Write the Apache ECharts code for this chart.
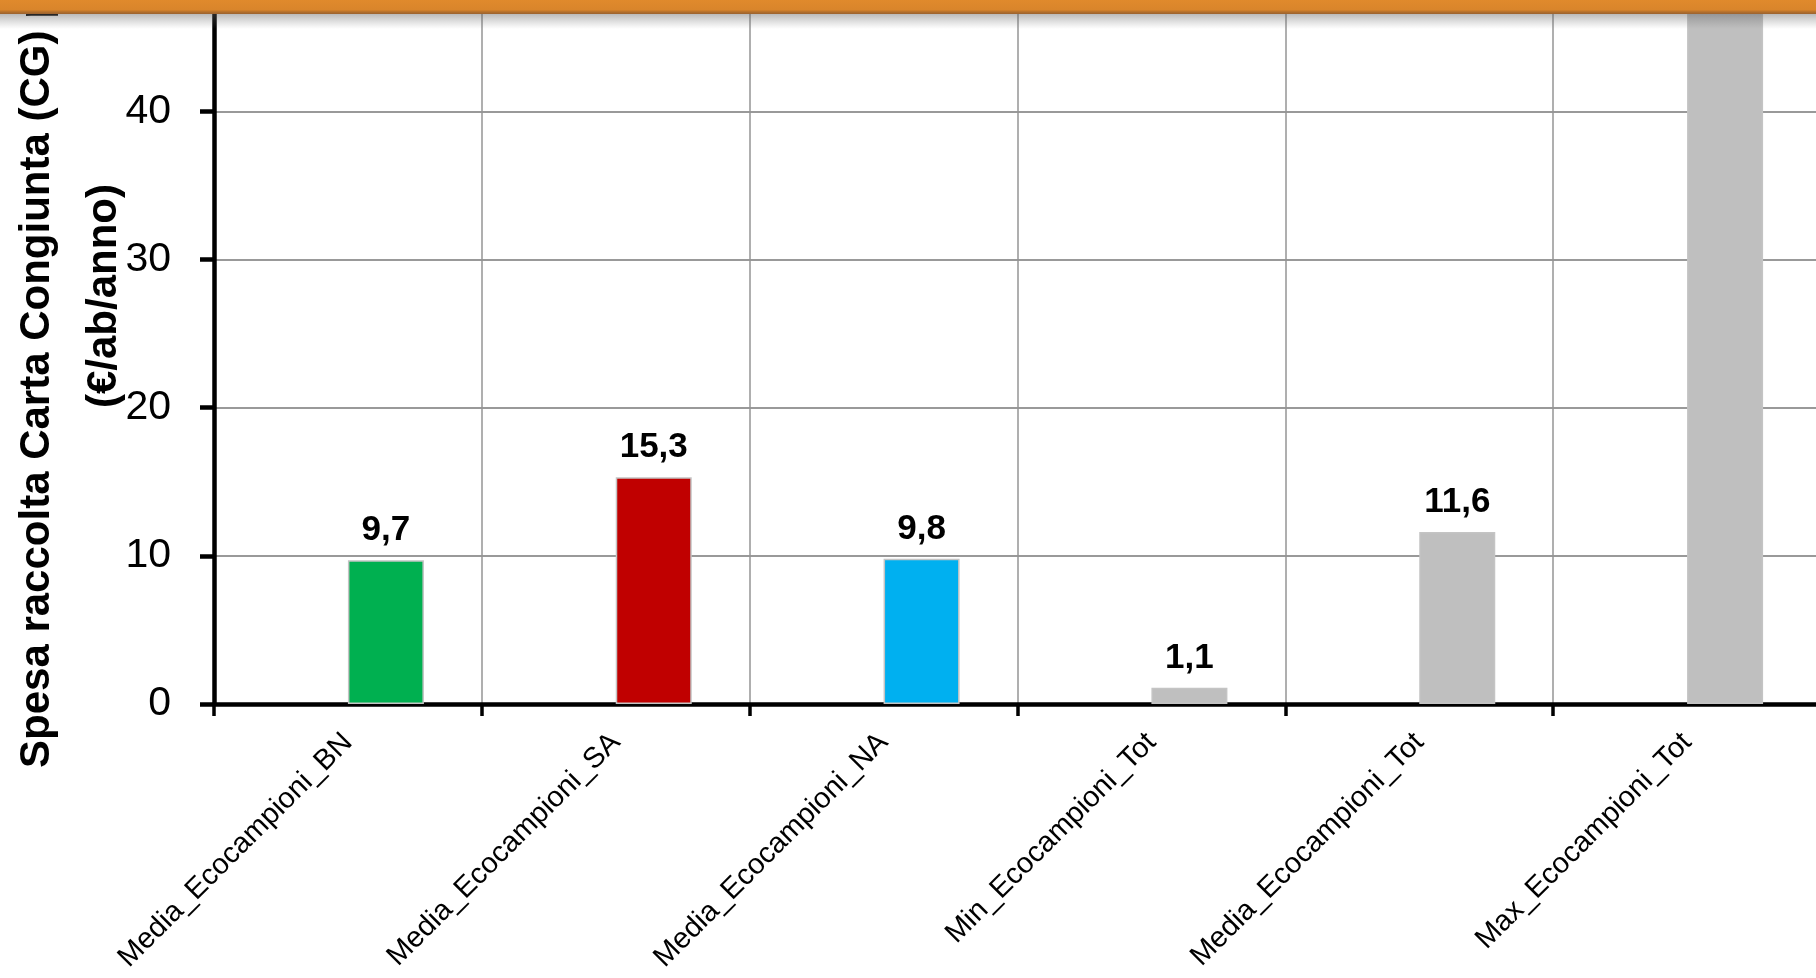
<!DOCTYPE html>
<html>
<head>
<meta charset="utf-8">
<script src="https://cdn.jsdelivr.net/npm/echarts@6/dist/echarts.min.js"></script>
<style>
html,body{margin:0;padding:0;background:#fff;}
#chart{width:1816px;height:978px;}
</style>
</head>
<body>
<div id="chart"></div>
<script>
const categories = ['Media_Ecocampioni_BN','Media_Ecocampioni_SA','Media_Ecocampioni_NA','Min_Ecocampioni_Tot','Media_Ecocampioni_Tot','Max_Ecocampioni_Tot'];
const values = [9.7, 15.3, 9.8, 1.1, 11.6, 52.0];
const barColors = ['#00B050', '#C00000', '#00B0F0', '#BFBFBF', '#BFBFBF', '#BFBFBF'];
const emptySeries = [null, null, null, null, null, null];
const yTitleLine1 = 'Spesa raccolta Carta Congiunta (CG) pro capite';
const yTitleLine2 = '(€/ab/anno)';

const FONT = "'Liberation Sans Narrow', 'Arial Narrow', 'Liberation Sans', Arial, sans-serif";

const chart = echarts.init(document.getElementById('chart'), null, {renderer: 'canvas'});
const option = {
  animation: false,
  backgroundColor: '#ffffff',
  grid: {left: 214, right: -5, top: -111, bottom: 274, containLabel: false, outerBoundsMode: 'none'},
  xAxis: {
    type: 'category',
    data: categories,
    boundaryGap: true,
    axisLine: {show: true, lineStyle: {color: '#000', width: 4.5}},
    axisTick: {show: true, length: 12, lineStyle: {color: '#000', width: 3.5}},
    splitLine: {show: true, lineStyle: {color: '#959595', width: 1.5}},
    axisLabel: {rotate: 45, margin: 34, color: '#000', fontSize: 29, fontFamily: FONT, interval: 0}
  },
  yAxis: {
    type: 'value',
    min: 0, max: 55, interval: 10,
    axisLine: {show: true, lineStyle: {color: '#000', width: 4.5}},
    axisTick: {show: true, length: 14, lineStyle: {color: '#000', width: 4.5}},
    splitLine: {show: true, lineStyle: {color: '#999999', width: 2}},
    axisLabel: {margin: 43, color: '#000', fontSize: 41, fontFamily: FONT,
      formatter: v => (v % 10 === 0 ? String(v) : '')}
  },
  series: [
    {type: 'bar', data: emptySeries, barWidth: 76, barGap: '0%'},
    {
      type: 'bar',
      barWidth: 76,
      barGap: '0%',
      data: values.map((v, i) => ({value: v, itemStyle: {color: barColors[i]}})),
      itemStyle: {borderColor: '#c4c4c4', borderWidth: 1.5},
      label: {
        show: true, position: 'top', distance: 12,
        color: '#000', fontWeight: 'bold', fontSize: 35, fontFamily: FONT,
        formatter: p => p.value.toFixed(1).replace('.', ',')
      }
    }
  ],
  graphic: [
    {type: 'text', x: 37, y: 768, rotation: Math.PI / 2, z: 50,
      style: {text: yTitleLine1, font: "bold 42px " + FONT, fill: '#000', textAlign: 'left', textVerticalAlign: 'middle'}},
    {type: 'text', x: 104, y: 296, rotation: Math.PI / 2, z: 50,
      style: {text: yTitleLine2, font: "bold 42px " + FONT, fill: '#000', textAlign: 'center', textVerticalAlign: 'middle'}},
    {type: 'rect', shape: {x: 0, y: 13, width: 1816, height: 16}, z: 100, silent: true,
      style: {fill: new echarts.graphic.LinearGradient(0, 0, 0, 1, [
        {offset: 0, color: 'rgba(90,90,90,0.45)'}, {offset: 1, color: 'rgba(120,120,120,0)'}])}},
    {type: 'rect', shape: {x: 0, y: 0, width: 1816, height: 14}, z: 101, silent: true,
      style: {fill: new echarts.graphic.LinearGradient(0, 0, 0, 1, [
        {offset: 0, color: '#E08A2C'}, {offset: 0.7, color: '#D9852B'}, {offset: 0.85, color: '#B4702C'}, {offset: 1, color: '#9A6230'}])}}
  ]
};
chart.setOption(option);
</script>
</body>
</html>
